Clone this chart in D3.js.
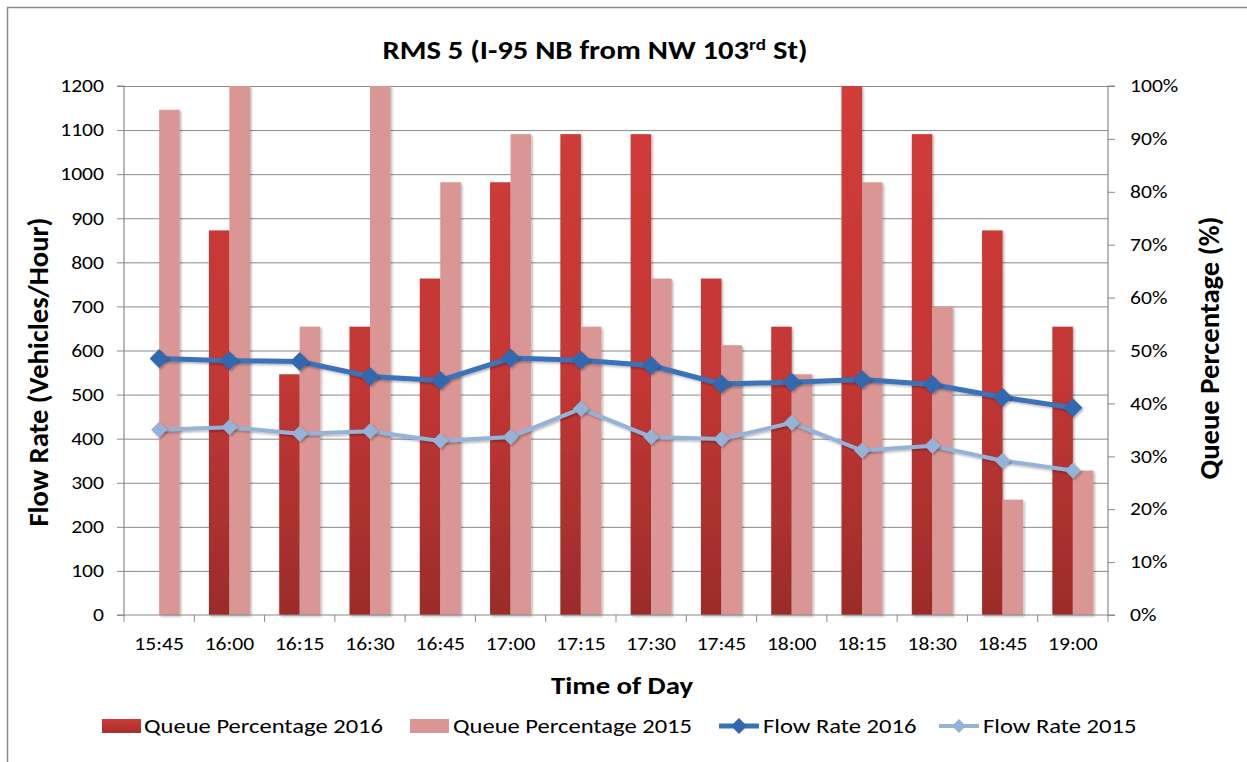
<!DOCTYPE html>
<html>
<head>
<meta charset="utf-8">
<script src="https://cdn.jsdelivr.net/npm/d3@7"></script>
<style>
  html, body { margin: 0; padding: 0; background: #fff; }
  svg { display: block; font-family: Carlito, Lato, "Open Sans", sans-serif; }
</style>
</head>
<body>
<svg id="chart" width="1247" height="762"></svg>
<script>
// ---- data ----
const categories = ["15:45","16:00","16:15","16:30","16:45","17:00","17:15","17:30","17:45","18:00","18:15","18:30","18:45","19:00"];
const queue2016 = [0, 72.7, 45.5, 54.5, 63.6, 81.8, 90.9, 90.9, 63.6, 54.5, 100, 90.9, 72.7, 54.5];
const queue2015 = [95.5, 100, 54.5, 100, 81.8, 90.9, 54.5, 63.6, 51, 45.5, 81.8, 58.3, 21.8, 27.3];
const flow2016 = [582, 577, 575, 541, 532, 583, 578, 566, 524, 528, 534, 523, 494, 470];
const flow2015 = [420, 426, 411, 417, 395, 404, 468, 404, 399, 436, 373, 384, 350, 328];
const leftTicks = [0,100,200,300,400,500,600,700,800,900,1000,1100,1200];
const rightTicks = [0,10,20,30,40,50,60,70,80,90,100];
const seriesNames = ["Queue Percentage 2016","Queue Percentage 2015","Flow Rate 2016","Flow Rate 2015"];

const svg = d3.select("#chart");
const L = 124, R = 1108, T = 86, B = 615;
const K = 1.2; // horizontal glyph stretch of the reference rendering

function stretch(sel, k) {
  sel.each(function () {
    const t = d3.select(this);
    const ax = +t.attr("x") || 0;
    t.attr("transform", `matrix(${k},0,0,1,${ax * (1 - k)},0)`);
  });
}

// outer border (only top/left visible)
svg.append("rect").attr("x", 7.5).attr("y", 7.5).attr("width", 1300).attr("height", 900)
  .attr("fill", "none").attr("stroke", "#8c8c8c").attr("stroke-width", 1.5);

const defs = svg.append("defs");
const g16 = defs.append("linearGradient").attr("id", "g16")
  .attr("gradientUnits", "userSpaceOnUse").attr("x1", 0).attr("x2", 0).attr("y1", T).attr("y2", B);
g16.append("stop").attr("offset", "0").attr("stop-color", "#D13C38");
g16.append("stop").attr("offset", "0.55").attr("stop-color", "#C33734");
g16.append("stop").attr("offset", "1").attr("stop-color", "#9B2C2B");
const gLeg = defs.append("linearGradient").attr("id", "gLeg").attr("x1", 0).attr("x2", 0).attr("y1", 0).attr("y2", 1);
gLeg.append("stop").attr("offset", "0").attr("stop-color", "#CC3A36");
gLeg.append("stop").attr("offset", "1").attr("stop-color", "#A52F2D");
const sh = defs.append("filter").attr("id", "sh").attr("x", "-20%").attr("y", "-20%").attr("width", "140%").attr("height", "140%");
sh.append("feDropShadow").attr("dx", 1.5).attr("dy", 1.5).attr("stdDeviation", 1.2).attr("flood-color", "#000").attr("flood-opacity", 0.3);

const x = d3.scaleBand().domain(categories).range([L, R]);
const yL = d3.scaleLinear().domain([0, 1200]).range([B, T]);
const yR = d3.scaleLinear().domain([0, 100]).range([B, T]);
const sub = d3.scaleBand().domain(["2016", "2015"]).range([-20.5, 20.5]);
const cx = c => x(c) + x.bandwidth() / 2;

// gridlines
svg.append("g").selectAll("line").data(leftTicks.slice(1)).join("line")
  .attr("x1", L).attr("x2", R).attr("y1", d => yL(d) + 0.5).attr("y2", d => yL(d) + 0.5)
  .attr("stroke", "#8a8a8a").attr("stroke-width", 1);

// bars
const bars = svg.append("g");
bars.selectAll("rect.b16").data(categories).join("rect")
  .attr("x", (c) => cx(c) + sub("2016"))
  .attr("width", sub.bandwidth())
  .attr("y", (c, i) => yR(queue2016[i]))
  .attr("height", (c, i) => B - yR(queue2016[i]))
  .attr("fill", "url(#g16)").attr("filter", "url(#sh)");
bars.selectAll("rect.b15").data(categories).join("rect")
  .attr("x", (c) => cx(c) + sub("2015"))
  .attr("width", sub.bandwidth())
  .attr("y", (c, i) => yR(queue2015[i]))
  .attr("height", (c, i) => B - yR(queue2015[i]))
  .attr("fill", "#DA9694").attr("filter", "url(#sh)");

// axes
const axL = svg.append("g").attr("transform", `translate(${L},0)`)
  .call(d3.axisLeft(yL).tickValues(leftTicks).tickSize(7).tickPadding(13).tickFormat(d3.format("d")));
const axR = svg.append("g").attr("transform", `translate(${R},0)`)
  .call(d3.axisRight(yR).tickValues(rightTicks).tickSize(7).tickPadding(15).tickFormat(d => d + "%"));
const axB = svg.append("g").attr("transform", `translate(0,${B})`)
  .call(d3.axisBottom(x).tickSize(0).tickPadding(22));
const bounds = categories.map(c => x(c)).concat([R]);
svg.append("g").selectAll("line").data(bounds).join("line")
  .attr("x1", d => d).attr("x2", d => d).attr("y1", B).attr("y2", B + 7)
  .attr("stroke", "#8a8a8a");
[axL, axR, axB].forEach(a => {
  a.selectAll("path.domain").attr("stroke", "#8a8a8a").attr("stroke-width", 1.2);
  a.selectAll(".tick line").attr("stroke", "#8a8a8a");
  a.selectAll(".tick text").attr("fill", "#000").style("font-size", "18px").style("font-family", "Carlito, Lato, sans-serif");
  stretch(a.selectAll(".tick text"), K);
});
axL.select("path.domain").attr("d", `M-7,${B}H0V${T}H-7`);
axR.select("path.domain").attr("d", `M7,${B}H0V${T}H7`);
axB.select("path.domain").attr("d", `M${L},0H${R}`);

// lines
const line16 = d3.line().x((d, i) => cx(categories[i])).y(d => yL(d));
const diamond = s => `M0,${-s}L${s},0L0,${s}L${-s},0Z`;
svg.append("path").datum(flow2015).attr("d", line16).attr("fill", "none")
  .attr("stroke", "#95B3D7").attr("stroke-width", 4).attr("filter", "url(#sh)");
svg.append("g").selectAll("path").data(flow2015).join("path")
  .attr("transform", (d, i) => `translate(${cx(categories[i])},${yL(d)})`)
  .attr("d", diamond(8)).attr("fill", "#95B3D7").attr("filter", "url(#sh)");
svg.append("path").datum(flow2016).attr("d", line16).attr("fill", "none")
  .attr("stroke", "#3A72B8").attr("stroke-width", 5).attr("filter", "url(#sh)");
svg.append("g").selectAll("path").data(flow2016).join("path")
  .attr("transform", (d, i) => `translate(${cx(categories[i])},${yL(d)})`)
  .attr("d", diamond(9.5)).attr("fill", "#3368B0").attr("filter", "url(#sh)");

// title
const title = svg.append("text").attr("x", 595).attr("y", 59).attr("text-anchor", "middle")
  .style("font-size", "25.5px").style("font-weight", "bold");
title.append("tspan").text("RMS 5 (I-95 NB from NW 103");
title.append("tspan").attr("dy", -9).style("font-size", "16px").text("rd");
title.append("tspan").attr("dy", 9).text(" St)");
stretch(title, K);

// axis titles
svg.append("text").attr("transform", `translate(48,372) rotate(-90) scale(1,${K})`).attr("text-anchor", "middle")
  .attr("textLength", 309).attr("lengthAdjust", "spacingAndGlyphs")
  .style("font-size", "23.5px").style("font-weight", "bold").text("Flow Rate (Vehicles/Hour)");
svg.append("text").attr("transform", `translate(1219,348) rotate(-90) scale(1,${K})`).attr("text-anchor", "middle")
  .attr("textLength", 263).attr("lengthAdjust", "spacingAndGlyphs")
  .style("font-size", "23.5px").style("font-weight", "bold").text("Queue Percentage (%)");
svg.append("text").attr("x", 622).attr("y", 694).attr("text-anchor", "middle")
  .attr("textLength", 142).attr("lengthAdjust", "spacingAndGlyphs")
  .style("font-size", "23.5px").style("font-weight", "bold").text("Time of Day");

// legend
const lg = svg.append("g").style("font-size", "20.5px");
const ly = 726;
lg.append("rect").attr("x", 102).attr("y", ly - 7).attr("width", 39).attr("height", 14).attr("fill", "url(#gLeg)");
lg.append("text").attr("x", 144).attr("y", ly + 7).text(seriesNames[0]);
lg.append("rect").attr("x", 410).attr("y", ly - 7).attr("width", 39).attr("height", 14).attr("fill", "#DA9694");
lg.append("text").attr("x", 453).attr("y", ly + 7).text(seriesNames[1]);
lg.append("line").attr("x1", 719).attr("x2", 759).attr("y1", ly).attr("y2", ly).attr("stroke", "#3A72B8").attr("stroke-width", 5);
lg.append("path").attr("transform", `translate(739,${ly})`).attr("d", diamond(8)).attr("fill", "#3368B0");
lg.append("text").attr("x", 763).attr("y", ly + 7).text(seriesNames[2]);
lg.append("line").attr("x1", 939).attr("x2", 979).attr("y1", ly).attr("y2", ly).attr("stroke", "#95B3D7").attr("stroke-width", 4);
lg.append("path").attr("transform", `translate(959,${ly})`).attr("d", diamond(7)).attr("fill", "#95B3D7");
lg.append("text").attr("x", 983).attr("y", ly + 7).text(seriesNames[3]);
stretch(lg.selectAll("text"), K);
</script>
</body>
</html>
